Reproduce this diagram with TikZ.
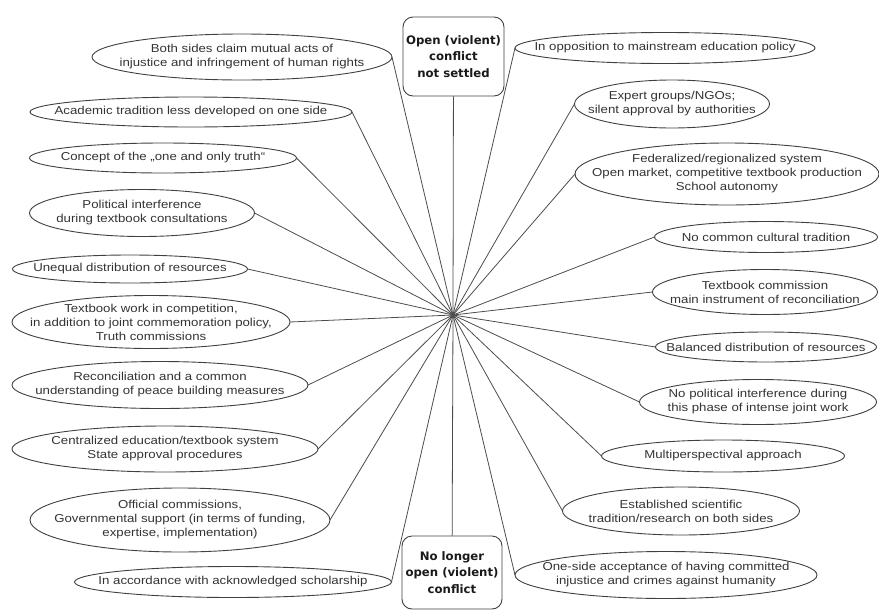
\documentclass[tikz,border=0pt]{standalone}
\usepackage{fontspec}
\setmainfont[FakeStretch=1.15]{Liberation Sans}
\newfontfamily\boxfont{DejaVu Sans}
\usetikzlibrary{shapes.geometric}

\begin{document}
\begin{tikzpicture}[x=1pt,y=-1pt,
  oval/.style={ellipse,draw=black!75,line width=0.9pt,inner sep=0,outer sep=0},
  lbl/.style={align=center,text=black!80,font=\fontsize{11.5}{14}\selectfont,inner sep=0},
  stage/.style={draw=black!75,line width=0.9pt,rounded corners=10pt,inner sep=0,align=center,text=black!90,font=\boxfont\bfseries\fontsize{11.7}{16.5}\selectfont},
  spoke/.style={draw=black!70,line width=0.8pt}]
\useasboundingbox (0,0) rectangle (879,611);
\coordinate (hub) at (453,315);

\node[stage,minimum width=101pt,minimum height=79pt] (OPEN) at (453.5,56.5) {Open (violent)\\conflict\\not settled};
\node[stage,minimum width=100pt,minimum height=73pt] (NOLONG) at (452,572.5) {No longer\\open (violent)\\conflict};

\node[oval,minimum width=300pt,minimum height=46pt] (CLAIM) at (242,57) {};
\node[lbl] (CLAIMt) at (CLAIM) {Both sides claim mutual acts of\\injustice and infringement of human rights};
\node[oval,minimum width=322pt,minimum height=30pt] (ACAD) at (191,112) {};
\node[lbl] (ACADt) at (ACAD) {Academic tradition less developed on one side};
\node[oval,minimum width=267pt,minimum height=30pt] (TRUTH) at (163,158) {};
\node[lbl] (TRUTHt) at (TRUTH) {Concept of the „one and only truth“};
\node[oval,minimum width=225pt,minimum height=47pt] (POLIT) at (142,213) {};
\node[lbl] (POLITt) at (POLIT) {Political interference\\during textbook consultations};
\node[oval,minimum width=235pt,minimum height=28pt] (UNEQ) at (130,269) {};
\node[lbl] (UNEQt) at (UNEQ) {Unequal distribution of resources};
\node[oval,minimum width=278pt,minimum height=53pt] (COMP) at (151,322) {};
\node[lbl] (COMPt) at (COMP) {Textbook work in competition,\\in addition to joint commemoration policy,\\Truth commissions};
\node[oval,minimum width=296pt,minimum height=47pt] (RECON) at (160,385) {};
\node[lbl] (RECONt) at (RECON) {Reconciliation and a common\\understanding of peace building measures};
\node[oval,minimum width=306pt,minimum height=46pt] (CENTR) at (165,449) {};
\node[lbl] (CENTRt) at (CENTR) {Centralized education/textbook system\\State approval procedures};
\node[oval,minimum width=300pt,minimum height=64pt] (OFFIC) at (180,520) {};
\node[lbl] (OFFICt) at (OFFIC) {Official commissions,\\Governmental support (in terms of funding,\\expertise, implementation)};
\node[oval,minimum width=317pt,minimum height=31pt] (SCHOL) at (233,582) {};
\node[lbl] (SCHOLt) at (SCHOL) {In accordance with acknowledged scholarship};

\node[oval,minimum width=300pt,minimum height=31pt] (OPPOS) at (665,48) {};
\node[lbl] (OPPOSt) at (OPPOS) {In opposition to mainstream education policy};
\node[oval,minimum width=195pt,minimum height=48pt] (EXPERT) at (672,104) {};
\node[lbl] (EXPERTt) at (EXPERT) {Expert groups/NGOs;\\silent approval by authorities};
\node[oval,minimum width=304pt,minimum height=62pt] (FEDER) at (727,174) {};
\node[lbl] (FEDERt) at (FEDER) {Federalized/regionalized system\\Open market, competitive textbook production\\School autonomy};
\node[oval,minimum width=223pt,minimum height=31pt] (NOCOM) at (766,237) {};
\node[lbl] (NOCOMt) at (NOCOM) {No common cultural tradition};
\node[oval,minimum width=225pt,minimum height=45pt] (TBCOM) at (765,292) {};
\node[lbl] (TBCOMt) at (TBCOM) {Textbook commission\\main instrument of reconciliation};
\node[oval,minimum width=221pt,minimum height=30pt] (BALAN) at (766,347) {};
\node[lbl] (BALANt) at (BALAN) {Balanced distribution of resources};
\node[oval,minimum width=237pt,minimum height=45pt] (NOPOL) at (758,402) {};
\node[lbl] (NOPOLt) at (NOPOL) {No political interference during\\this phase of intense joint work};
\node[oval,minimum width=243pt,minimum height=32pt] (MULTI) at (723,456) {};
\node[lbl] (MULTIt) at (MULTI) {Multiperspectival approach};
\node[oval,minimum width=237pt,minimum height=48pt] (ESTAB) at (681,511) {};
\node[lbl] (ESTABt) at (ESTAB) {Established scientific\\tradition/research on both sides};
\node[oval,minimum width=302pt,minimum height=47pt] (ACCEPT) at (666,575) {};
\node[lbl] (ACCEPTt) at (ACCEPT) {One-side acceptance of having committed\\injustice and crimes against humanity};

\draw[spoke] (OPEN) -- (hub);
\draw[spoke] (hub) -- (NOLONG);

\draw[spoke] (CLAIM.east) -- (hub);
\draw[spoke] (ACAD.east) -- (hub);
\draw[spoke] (TRUTH.east) -- (hub);
\draw[spoke] (POLIT.east) -- (hub);
\draw[spoke] (UNEQ.east) -- (hub);
\draw[spoke] (COMP.east) -- (hub);
\draw[spoke] (RECON.east) -- (hub);
\draw[spoke] (CENTR.east) -- (hub);
\draw[spoke] (OFFIC.east) -- (hub);
\draw[spoke] (SCHOL.east) -- (hub);

\draw[spoke] (OPPOS.west) -- (hub);
\draw[spoke] (EXPERT.west) -- (hub);
\draw[spoke] (FEDER.west) -- (hub);
\draw[spoke] (NOCOM.west) -- (hub);
\draw[spoke] (TBCOM.west) -- (hub);
\draw[spoke] (BALAN.west) -- (hub);
\draw[spoke] (NOPOL.west) -- (hub);
\draw[spoke] (MULTI.west) -- (hub);
\draw[spoke] (ESTAB.west) -- (hub);
\draw[spoke] (ACCEPT.west) -- (hub);
\end{tikzpicture}
\end{document}
